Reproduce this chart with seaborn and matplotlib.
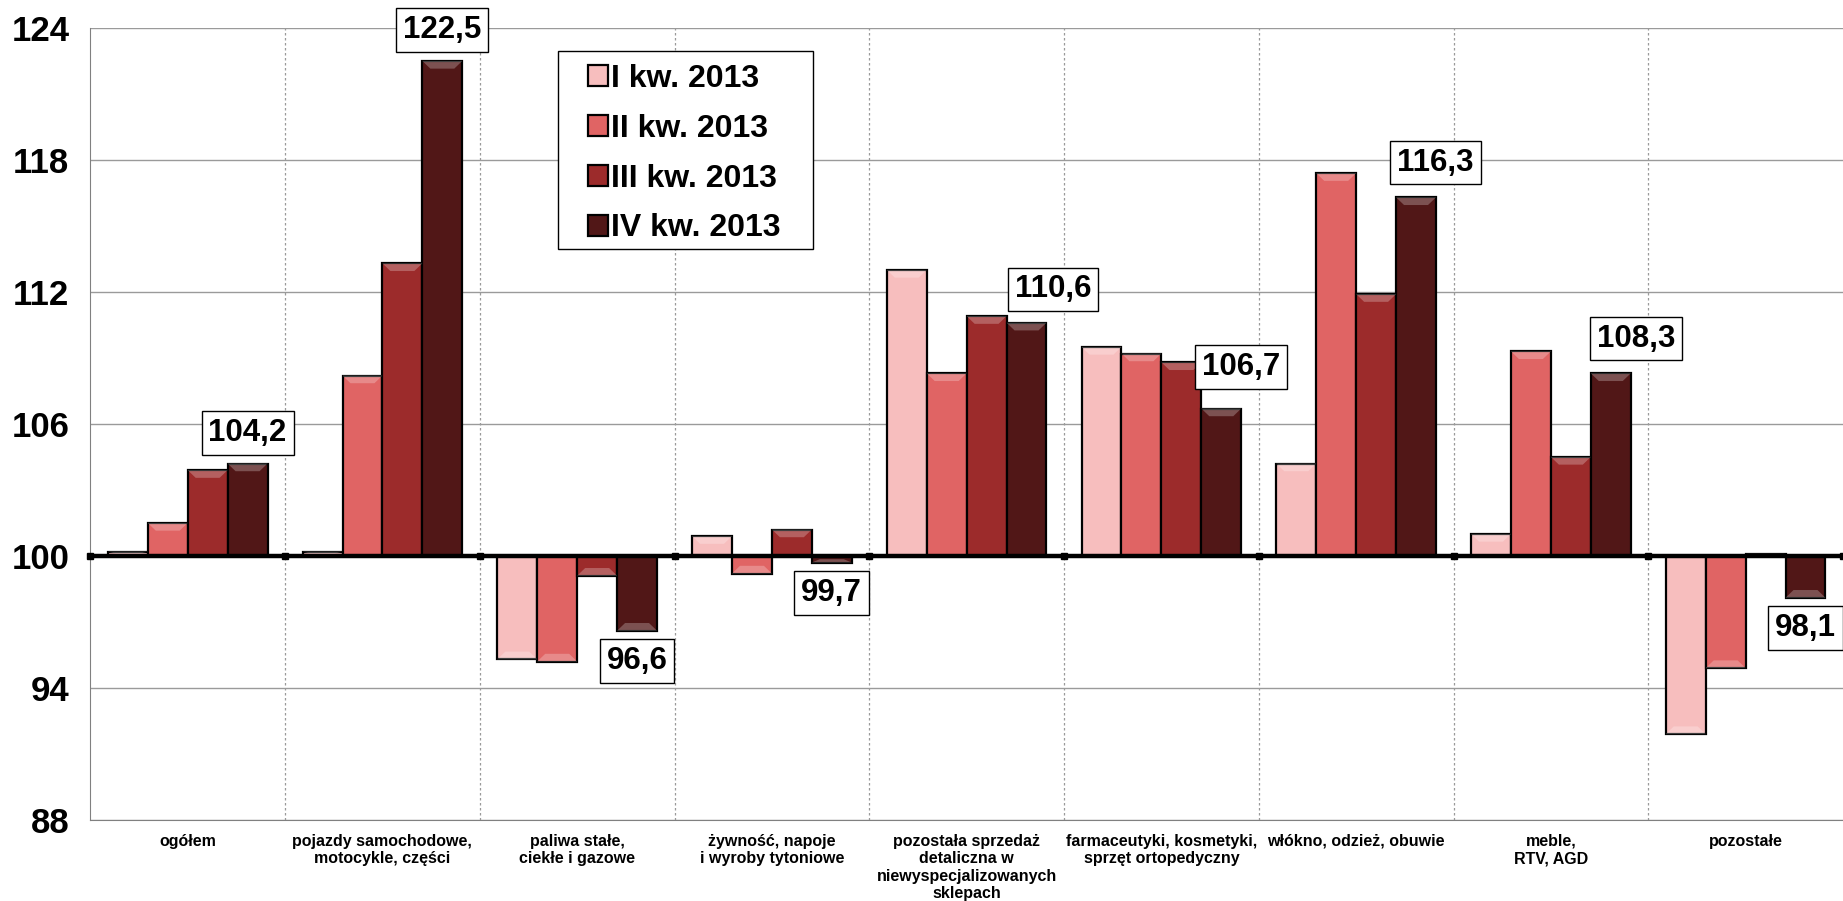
import numpy as np
import pandas as pd
import matplotlib
matplotlib.use("Agg")
import matplotlib.pyplot as plt
import seaborn as sns
from matplotlib.patches import Rectangle
from matplotlib.ticker import FuncFormatter

# dynamika sprzedazy detalicznej, analogiczny okres = 100
categories = [
    "ogółem",
    "pojazdy samochodowe,\nmotocykle, części",
    "paliwa stałe,\nciekłe i gazowe",
    "żywność, napoje\ni wyroby tytoniowe",
    "pozostała sprzedaż\ndetaliczna w\nniewyspecjalizowanych\nsklepach",
    "farmaceutyki, kosmetyki,\nsprzęt ortopedyczny",
    "włókno, odzież, obuwie",
    "meble,\nRTV, AGD",
    "pozostałe",
]
quarters = ["I kw. 2013", "II kw. 2013", "III kw. 2013", "IV kw. 2013"]
q1 = [100.2, 100.2, 95.3, 100.9, 113.0, 109.5, 104.2, 101.0, 91.9]
q2 = [101.5, 108.2, 95.2, 99.2, 108.3, 109.2, 117.4, 109.3, 94.9]
q3 = [103.9, 113.3, 99.1, 101.2, 110.9, 108.8, 111.9, 104.5, 100.1]
q4 = [104.2, 122.5, 96.6, 99.7, 110.6, 106.7, 116.3, 108.3, 98.1]
y_ticks = [88, 94, 100, 106, 112, 118, 124]

BASE = 100
colors = ["#F7BEBE", "#E06464", "#9C2B2B", "#511717"]
# przesuniecia etykiet (punkty) tam gdzie w oryginale zostaly przesuniete
label_nudge = {5: (14, 30), 4: (19, 24), 6: (14, 25), 7: (18, 25)}

df = pd.DataFrame({
    "kategoria": np.tile(categories, len(quarters)),
    "okres": np.repeat(quarters, len(categories)),
    "wartosc": q1 + q2 + q3 + q4,
})
df["odchylenie"] = df["wartosc"] - BASE

sns.set_style("white")
plt.rcParams["font.family"] = ["Liberation Sans", "DejaVu Sans"]
plt.rcParams["font.weight"] = "bold"
plt.rcParams["text.color"] = "black"

fig = plt.figure(figsize=(18.43, 9.01), dpi=100)
ax = fig.add_axes([0.049, 0.090, 0.951, 0.879])

sns.barplot(data=df, x="kategoria", y="odchylenie", hue="okres",
            order=categories, hue_order=quarters, palette=colors,
            width=0.82, edgecolor="black", linewidth=1.6, saturation=1,
            ax=ax, legend=True, zorder=3)

# lekki efekt "skosu" na gorze/dole slupkow
for cont in ax.containers:
    for bar in cont:
        h = bar.get_height()
        if abs(h) < 0.05:
            continue
        bx, bw = bar.get_x(), bar.get_width()
        band = 0.35 if h > 0 else -0.35
        band = band if abs(band) < abs(h) else h * 0.5
        ax.fill([bx, bx + bw, bx + bw * 0.8, bx + bw * 0.2],
                [h, h, h - band, h - band],
                color="white", alpha=0.25, zorder=4, lw=0)

ax.set_xlim(-0.5, len(categories) - 0.5)
ax.set_ylim(y_ticks[0] - BASE, y_ticks[-1] - BASE)
ax.set_yticks([t - BASE for t in y_ticks])
ax.yaxis.set_major_formatter(FuncFormatter(lambda v, p: f"{v + BASE:.0f}"))
ax.tick_params(axis="y", labelsize=25, length=7, color="#808080", pad=8,
               labelcolor="black")
ax.tick_params(axis="x", labelsize=11.5, length=0, pad=10, labelcolor="black")
for lab in ax.get_yticklabels() + ax.get_xticklabels():
    lab.set_fontweight("bold")
ax.set_xlabel("")
ax.set_ylabel("")

ax.grid(axis="y", color="#9a9a9a", lw=1, zorder=0)
for b in np.arange(len(categories) - 1) + 0.5:
    ax.axvline(b, color="#9a9a9a", lw=0.9, ls=(0, (2, 2)), zorder=0)

for s in ["top", "right"]:
    ax.spines[s].set_visible(False)
ax.spines["left"].set_color("#808080")
ax.spines["bottom"].set_color("#808080")

# os kategorii na poziomie 100
ax.axhline(0, color="black", lw=3.2, zorder=5)
bounds = np.arange(len(categories) + 1) - 0.5
ax.plot(bounds, np.zeros_like(bounds), ls="none", marker="s", ms=5,
        color="black", zorder=6, clip_on=False)

# etykiety dla IV kw.
for i, bar in enumerate(ax.containers[3]):
    val = q4[i]
    dx, dy = label_nudge.get(i, (0, 22))
    if val < BASE:
        dy = -dy
    ax.annotate(f"{val:.1f}".replace(".", ","),
                (bar.get_x() + bar.get_width() / 2, val - BASE),
                xytext=(dx, dy), textcoords="offset points",
                ha="center", va="center", fontsize=22.5, fontweight="bold",
                color="black",
                bbox=dict(boxstyle="square,pad=0.22", fc="white", ec="black", lw=1),
                zorder=7, annotation_clip=False)

# legenda: ramka rysowana osobno (wiekszy margines poziomy)
frame = Rectangle((0.303, 0.7235), 0.4412 - 0.303, 0.943 - 0.7235,
                  transform=fig.transFigure, fc="white", ec="black", lw=1,
                  zorder=8, clip_on=False)
ax.add_patch(frame)
leg = ax.legend(loc="upper left", bbox_to_anchor=(0.3188, 0.929),
                bbox_transform=fig.transFigure, frameon=False,
                fontsize=23, handlelength=0.63, handleheight=0.63,
                handletextpad=0.1, labelspacing=0.62, borderpad=0,
                borderaxespad=0, title=None)
leg.set_zorder(9)
for t in leg.get_texts():
    t.set_fontweight("bold")
    t.set_color("black")

fig.savefig("out.png", dpi=100)
